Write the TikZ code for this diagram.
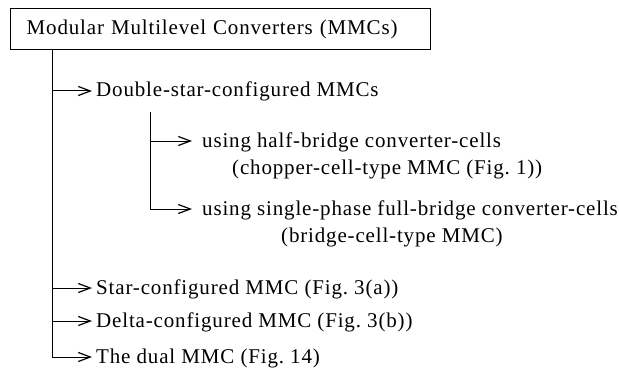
\documentclass[tikz,border=0pt]{standalone}
\usepackage{fontspec}
\newfontfamily\treefont[LetterSpace=4]{Liberation Serif}
\usetikzlibrary{positioning,arrows.meta}

\begin{document}
\begin{tikzpicture}[
  x=1pt, y=-1pt,
  font=\treefont\fontsize{21}{27}\selectfont,
  rootbox/.style={draw, line width=1.4pt, anchor=north west, minimum height=41pt, text width=388pt, inner xsep=16pt, align=left},
  item/.style={anchor=base west, inner sep=0pt, align=left},
  arrow/.style={-{Straight Barb[length=12pt,width=9pt,line width=1.2pt]}, line width=1pt, shorten >=4pt},
  subarrow/.style={arrow, shorten >=10pt}
]
  \useasboundingbox (0,0) rectangle (619,369);
  % top of the tree
  \node[rootbox] (root) at (10,8) {Modular Multilevel Converters (MMCs)};

  \node[item] (dstar) at (96,97) {Double-star-configured MMCs};
  % base of a two-line node is its last line
  \node[item] (half) at (202,174) {using half-bridge converter-cells\\\hspace{30pt}(chopper-cell-type MMC (Fig.~1))};
  \node[item] (full) at (202,242) {using single-phase full-bridge converter-cells\\\hspace{79pt}(bridge-cell-type MMC)};
  \node[item] (star) at (96,294) {Star-configured MMC (Fig.~3(a))};
  \node[item] (delta) at (96,327) {Delta-configured MMC (Fig.~3(b))};
  \node[item] (dual) at (96,363) {The dual MMC (Fig.~14)};

  \coordinate (trunk) at ([xshift=42pt]root.south west);
  \coordinate (branch) at (150,112);

  \draw[arrow] (trunk) |- ([yshift=6pt]dstar.base west);
  \draw[arrow] (trunk) |- ([yshift=6pt]star.base west);
  \draw[arrow] (trunk) |- ([yshift=6pt]delta.base west);
  \draw[arrow] (trunk) |- ([yshift=6pt]dual.base west);
  % second level
  \draw[subarrow] (branch) |- ([yshift=33pt]half.base west);
  \draw[subarrow] (branch) |- ([yshift=33pt]full.base west);
\end{tikzpicture}
\end{document}
